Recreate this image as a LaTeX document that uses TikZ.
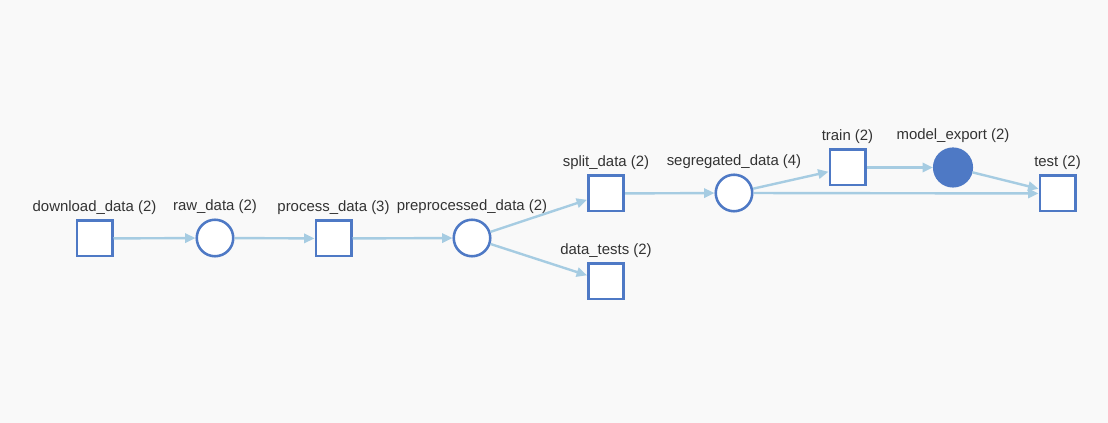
\documentclass[tikz,border=0pt]{standalone}
\usepackage{fontspec}
\setmainfont{Liberation Sans}
\usetikzlibrary{arrows.meta,positioning}
\definecolor{paper}{RGB}{249,249,249}
\definecolor{royal}{RGB}{78,121,197}
\definecolor{sky}{RGB}{166,204,226}
\definecolor{ink}{RGB}{51,51,51}
\tikzset{
  >={Triangle[length=7.8pt,width=7pt]},
  task/.style={rectangle,draw=royal,fill=white,line width=1.9pt,
    minimum size=26.6pt,inner sep=0pt},
  artifact/.style={circle,draw=royal,fill=#1,line width=1.9pt,
    minimum size=27.4pt,inner sep=0pt},
  artifact/.default=white,
  flow/.style={->,line width=1.8pt,draw=sky},
  tag/.style={font=\fontsize{11.2}{13}\selectfont,text=ink,inner sep=0pt},
}

\begin{document}
\begin{tikzpicture}[x=0.75pt,y=0.75pt]
  \fill[paper] (0,0) rectangle (1108,423);
  \useasboundingbox (0,0) rectangle (1108,423);
  % pipeline steps and their data
  \node[task] (dl) at (94.5,184.5) {};
  \node[artifact] (raw) at (215,185) {};
  \node[task] (proc) at (333.5,184.5) {};
  \node[artifact] (pre) at (472,185) {};
  \node[task] (split) at (606,229.5) {};
  \node[task] (tests) at (606,141.5) {};
  \node[artifact] (seg) at (734,230) {};
  \node[task] (train) at (847.5,255.5) {};
  \node[artifact=royal,minimum size=28.2pt] (export) at (953,255.5) {};
  \node[task] (test) at (1057.5,229.5) {};
  % names
  \node[tag,above=3.5pt of dl] (dl-t) {download\_data (2)};
  \node[tag,above=3.5pt of raw] (raw-t) {raw\_data (2)};
  \node[tag,above=3.5pt of proc] (proc-t) {process\_data (3)};
  \node[tag,above=3.5pt of pre] (pre-t) {preprocessed\_data (2)};
  \node[tag,above=3.5pt of split] (split-t) {split\_data (2)};
  \node[tag,above=3.5pt of tests] (tests-t) {data\_tests (2)};
  \node[tag,above=3.5pt of seg] (seg-t) {segregated\_data (4)};
  \node[tag,above=3.5pt of train] (train-t) {train (2)};
  \node[tag,above=3.5pt of export] (export-t) {model\_export (2)};
  \node[tag,above=3.5pt of test] (test-t) {test (2)};
  % edges
  \draw[flow] (dl) -- (raw);
  \draw[flow] (raw) -- (proc);
  \draw[flow] (proc) -- (pre);
  \draw[flow] (pre) -- (split);
  \draw[flow] (pre) -- (tests);
  \draw[flow] (split) -- (seg);
  \draw[flow] (seg) -- (train);
  \draw[flow] (seg) -- (test);
  \draw[flow] (train) -- (export);
  \draw[flow] (export) -- (test);
\end{tikzpicture}
\end{document}
